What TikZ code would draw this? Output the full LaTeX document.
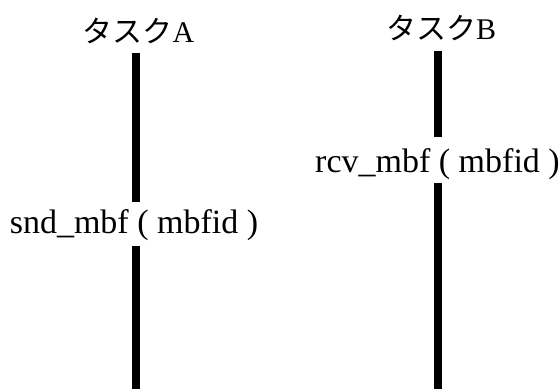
\documentclass[tikz,border=0pt]{standalone}
\usepackage{fontspec}
\setmainfont{Liberation Serif}
\newfontfamily\jpfont{Noto Sans CJK JP}
\begin{document}
\begin{tikzpicture}[x=1pt,y=-1pt,
  lbl/.style={inner sep=0pt, outer sep=0pt, anchor=base, font=\fontsize{30}{36}\selectfont},
  call/.style={lbl, font=\fontsize{34}{40}\selectfont},
  life/.style={line width=8pt}]
\useasboundingbox (0,0) rectangle (559,389);
% task names
\node[lbl] (taskA) at (138.5,42){{\jpfont タスク}A};
\node[lbl] (taskB) at (441,39){{\jpfont タスク}B};
% service calls
\node[call] (snd) at (134,233){snd\_mbf ( mbfid )};
\node[call] (rcv) at (437.5,172){rcv\_mbf ( mbfid )};
\coordinate (endA) at (135.5,389);
\coordinate (endB) at (438,389);
% task A
\draw[life, shorten <=9.4pt, shorten >=7.5pt](taskA.south -| endA) -- (snd.north -| endA);
\draw[life, shorten <=6pt](snd.south -| endA) -- (endA);
% task B
\draw[life, shorten <=10.4pt, shorten >=11.5pt](taskB.south -| endB) -- (rcv.north -| endB);
\draw[life, shorten <=4pt](rcv.south -| endB) -- (endB);
\end{tikzpicture}
\end{document}
